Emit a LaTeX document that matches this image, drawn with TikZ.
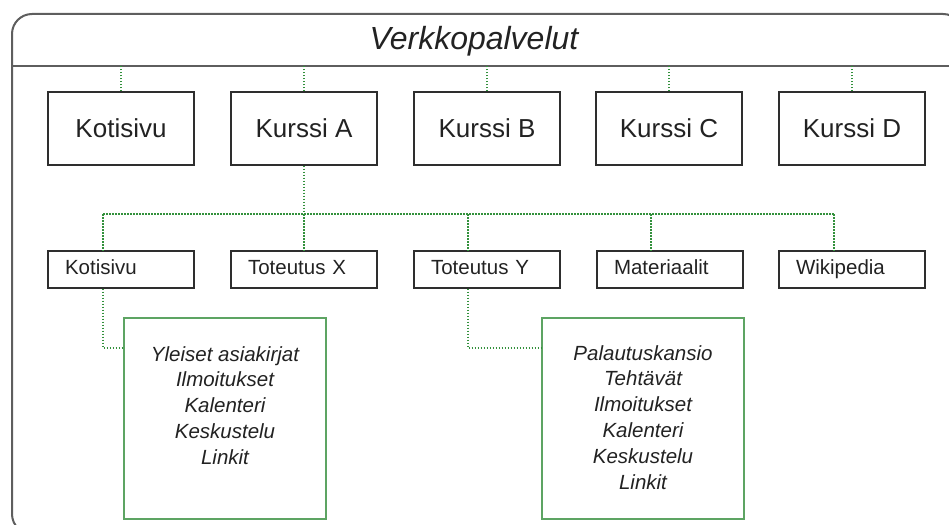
\documentclass[tikz,border=0pt]{standalone}
\usepackage{fontspec}
\setmainfont{Liberation Sans}
\usetikzlibrary{calc}

\definecolor{framegray}{HTML}{5E5E5E}
\definecolor{boxline}{HTML}{2E2E2E}
\definecolor{textdark}{HTML}{222222}
\definecolor{linkgreen}{HTML}{33913C}
\definecolor{panelgreen}{HTML}{5DA463}

\tikzset{
  frameline/.style={draw=framegray, line width=2pt},
  coursebox/.style={draw=boxline, line width=1.3pt, rectangle,
    minimum width=146pt, minimum height=73pt, inner sep=0pt,
    text=textdark, font=\fontsize{26}{30}\selectfont},
  subbox/.style={draw=boxline, line width=1.3pt, rectangle,
    minimum height=37pt, text width=112pt, inner xsep=17pt, inner ysep=0pt,
    text height=15pt, text depth=4.5pt,
    align=left, text=textdark, font=\fontsize{20.5}{24}\selectfont},
  panel/.style={draw=panelgreen, line width=1.8pt, rectangle,
    minimum width=202pt, minimum height=201pt, inner sep=0pt},
  paneltext/.style={align=center, inner sep=0pt, anchor=north, text=textdark,
    font=\fontsize{20.5}{25.8}\selectfont\itshape},
  dotlink/.style={draw=linkgreen, line width=1.8pt, dash pattern=on 1.6pt off 1.4pt}
}

\begin{document}
\begin{tikzpicture}[x=1pt, y=-1pt]
  \useasboundingbox (0,0) rectangle (949,524);
  \clip (0,0) rectangle (949,524);

  % outer container with its title band
  \draw[frameline, rounded corners=20pt] (12,14) rectangle (963,534);
  \coordinate (bandL) at (12,66);
  \coordinate (bandR) at (963,66);
  \draw[frameline] (bandL) -- (bandR);
  \node[font=\fontsize{32}{36}\selectfont\itshape, text=textdark] (title) at (474,41) {Verkkopalvelut};

  % first level
  \node[coursebox] (koti)  at (121,128.5) {Kotisivu};
  \node[coursebox] (kA)    at (304,128.5) {Kurssi A};
  \node[coursebox] (kB)    at (487,128.5) {Kurssi B};
  \node[coursebox] (kC)    at (669,128.5) {Kurssi C};
  \node[coursebox] (kD)    at (852,128.5) {Kurssi D};

  \foreach \n in {koti,kA,kB,kC,kD}
    \draw[dotlink] (\n.north) -- (\n.north |- bandL);

  % second level under Kurssi A
  \node[subbox] (sKoti) at (121,269.5) {Kotisivu};
  \node[subbox] (sX)    at (304,269.5) {Toteutus X};
  \node[subbox] (sY)    at (487,269.5) {Toteutus Y};
  \node[subbox] (sMat)  at (670,269.5) {Materiaalit};
  \node[subbox] (sWiki) at (852,269.5) {Wikipedia};

  \coordinate (bus) at (0,214);
  \coordinate (tKoti) at ($(sKoti.north)+(-18,0)$);
  \coordinate (tY)    at ($(sY.north)+(-19,0)$);
  \coordinate (tMat)  at ($(sMat.north)+(-19,0)$);
  \coordinate (tWiki) at ($(sWiki.north)+(-18,0)$);

  \draw[dotlink] (kA.south) -- (kA.south |- bus);
  \draw[dotlink] (tKoti |- bus) -- (tWiki |- bus);
  \draw[dotlink] (tKoti |- bus) -- (tKoti);
  \draw[dotlink] (sX.north |- bus) -- (sX.north);
  \draw[dotlink] (tY |- bus) -- (tY);
  \draw[dotlink] (tMat |- bus) -- (tMat);
  \draw[dotlink] (tWiki |- bus) -- (tWiki);

  % content panels
  \node[panel] (pKoti) at (225,418.5) {};
  \node[panel] (pY)    at (643,418.5) {};

  \node[paneltext] (lKoti) at ($(pKoti.north)+(0,29)$)
    {Yleiset asiakirjat\\Ilmoitukset\\Kalenteri\\Keskustelu\\Linkit};
  \node[paneltext] (lY) at ($(pY.north)+(0,28)$)
    {Palautuskansio\\Tehtävät\\Ilmoitukset\\Kalenteri\\Keskustelu\\Linkit};

  \coordinate (jKoti) at ($(pKoti.north west)+(0,31)$);
  \coordinate (jY)    at ($(pY.north west)+(0,31)$);
  \draw[dotlink] ($(sKoti.south)+(-18,0)$) |- (jKoti);
  \draw[dotlink] ($(sY.south)+(-19,0)$) |- (jY);
\end{tikzpicture}
\end{document}
